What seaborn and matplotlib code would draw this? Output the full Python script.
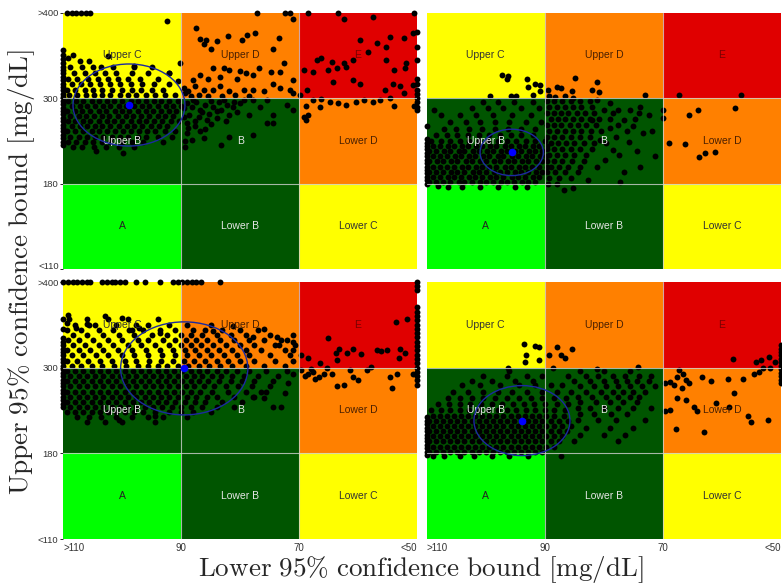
import numpy as np
import pandas as pd
import matplotlib
matplotlib.use('Agg')
import matplotlib.pyplot as plt
import seaborn as sns
from matplotlib.patches import Rectangle, Ellipse

sns.set_style('white')
plt.rcParams['font.family'] = ['Liberation Sans', 'DejaVu Sans']
plt.rcParams['mathtext.fontset'] = 'cm'

# ---------------- labels / zones ----------------
x_ticklabels = ['>110', '90', '70', '<50']
y_ticklabels = ['<110', '180', '300', '>400']
zone_names = [['A', 'Lower B', 'Lower C'],
              ['Upper B', 'B', 'Lower D'],
              ['Upper C', 'Upper D', 'E']]
zone_colors = [['#00ff00', '#005500', '#ffff00'],
               ['#005500', '#005500', '#ff8000'],
               ['#ffff00', '#ff8000', '#e00000']]
zone_text = [['#222222', '#e6e6e6', '#333333'],
             ['#e6e6e6', '#e6e6e6', '#4a2000'],
             ['#333333', '#4a2000', '#7a0000']]

# ---------------- ellipse summaries ----------------
ell_cx = [0.557, 0.72, 1.026, 0.807]
ell_cy = [1.92, 1.365, 1.99, 1.382]
ell_w = [0.95, 0.536, 1.08, 0.813]
ell_h = [0.96, 0.543, 1.083, 0.815]

# ---------------- panel 1 (top-left) ----------------
p1_rows = [
 (2.36, [0.06, 0.16, 0.25, 0.32, 0.42, 0.6, 0.75]),
 (2.29, [0.09, 0.18, 0.27, 0.35, 0.45, 0.58, 0.72, 0.9]),
 (2.22, [0.04, 0.12, 0.21, 0.29, 0.38, 0.46, 0.55, 0.65, 0.8]),
 (2.16, [0.07, 0.15, 0.23, 0.31, 0.4, 0.48, 0.57, 0.67, 0.77, 0.9]),
 (2.10, [0.03, 0.1, 0.18, 0.25, 0.33, 0.41, 0.5, 0.58, 0.66, 0.75, 0.85]),
 (2.04, [0.05, 0.12, 0.19, 0.26, 0.33, 0.4, 0.48, 0.55, 0.62, 0.7, 0.78, 0.86, 0.95]),
 (1.97, [0.04, 0.11, 0.17, 0.24, 0.3, 0.37, 0.43, 0.5, 0.57, 0.63, 0.7, 0.77, 0.83, 0.9, 0.97]),
 (1.91, [0.07, 0.14, 0.2, 0.27, 0.34, 0.4, 0.47, 0.53, 0.6, 0.67, 0.73, 0.8, 0.87, 0.93, 1.0]),
 (1.85, [0.03, 0.1, 0.16, 0.23, 0.3, 0.36, 0.44, 0.5, 0.56, 0.63, 0.7, 0.76, 0.83, 0.9, 0.96]),
 (1.79, [0.06, 0.13, 0.19, 0.26, 0.33, 0.39, 0.46, 0.53, 0.59, 0.66, 0.73, 0.8, 0.86, 0.93]),
 (1.73, [0.04, 0.1, 0.17, 0.23, 0.3, 0.37, 0.43, 0.5, 0.57, 0.64, 0.7, 0.77, 0.84, 0.91, 0.98]),
 (1.67, [0.07, 0.14, 0.2, 0.27, 0.33, 0.4, 0.47, 0.54, 0.6, 0.67, 0.74, 0.81, 0.88]),
 (1.61, [0.03, 0.1, 0.17, 0.24, 0.3, 0.37, 0.44, 0.51, 0.57, 0.64, 0.71, 0.78, 0.86, 0.95]),
 (1.55, [0.06, 0.13, 0.2, 0.27, 0.34, 0.41, 0.48, 0.55, 0.63, 0.7, 0.8, 0.92]),
 (1.49, [0.04, 0.11, 0.18, 0.25, 0.33, 0.4, 0.5, 0.58, 0.68, 0.85]),
 (1.43, [0.08, 0.16, 0.26, 0.36, 0.47, 0.6]),
]
p1_pts = [
 (0.04, 2.47), (0.08, 2.5), (0.14, 2.43), (0.22, 2.44), (0.38, 2.49), (0.6, 2.38), (0.99, 2.41),
 (0.88, 2.9), (0.9, 2.3), (0.97, 2.2),
 (1.13, 2.82), (1.16, 2.69), (1.21, 2.68), (1.19, 2.63), (1.3, 2.67), (1.25, 2.58), (1.4, 2.73),
 (1.52, 2.68), (1.56, 2.74), (1.63, 2.76), (1.83, 2.71), (1.95, 2.93), (1.78, 2.58), (1.87, 2.41),
 (1.95, 2.21), (1.84, 2.31), (1.76, 2.31), (1.27, 2.35), (1.36, 2.35), (1.41, 2.33), (1.5, 2.32),
 (1.55, 2.3), (1.61, 2.27), (1.66, 2.35), (1.16, 2.27), (1.23, 2.23), (1.33, 2.25), (1.47, 2.23),
 (1.1, 2.21), (1.12, 2.14), (1.19, 2.1), (1.27, 2.09), (1.33, 2.14), (1.41, 2.08), (1.53, 2.1),
 (1.61, 2.1), (1.7, 2.08), (1.78, 2.16), (1.84, 2.12), (1.92, 2.1), (1.95, 2.06), (1.03, 2.06),
 (1.08, 2.02), (1.02, 2.12), (1.06, 2.08), (1.15, 2.04), (1.23, 2.02), (1.35, 2.03), (1.46, 2.04),
 (1.58, 2.03),
 (2.38, 2.93), (2.63, 2.95), (2.52, 2.68), (2.77, 2.72), (2.89, 2.71), (2.97, 2.76), (2.74, 2.6),
 (2.66, 2.64), (2.59, 2.54), (2.15, 2.45), (2.19, 2.47), (2.28, 2.42), (2.38, 2.41), (2.46, 2.45),
 (2.4, 2.37), (2.32, 2.35), (2.25, 2.33), (2.12, 2.31), (2.04, 2.33), (2.81, 2.33), (2.9, 2.35),
 (2.74, 2.45), (2.91, 2.41), (2.29, 2.19), (2.46, 2.21), (2.52, 2.17), (2.73, 2.1), (2.8, 2.17),
 (2.86, 2.14), (2.97, 2.15), (2.89, 2.06), (2.07, 2.1), (2.01, 2.04),
 (2.04, 1.78), (2.08, 1.8), (2.06, 1.75), (2.06, 1.91), (2.12, 1.98), (2.19, 1.99), (2.26, 1.96),
 (2.33, 1.94), (2.4, 1.92), (2.48, 1.96), (2.55, 1.98), (2.63, 1.96), (2.69, 1.98), (2.77, 2.0),
 (2.81, 1.91), (2.18, 1.9), (2.98, 1.91),
 (1.05, 1.94), (1.09, 1.9), (1.13, 1.96), (1.16, 1.86), (1.2, 1.92), (1.24, 1.82), (1.27, 1.9),
 (1.32, 1.96), (1.34, 1.86), (1.39, 1.92), (1.44, 1.9), (1.41, 1.8), (1.47, 1.84), (1.5, 1.94),
 (1.3, 1.77), (1.22, 1.75), (1.15, 1.78), (1.07, 1.8), (1.05, 1.71), (1.12, 1.67), (1.16, 1.61),
 (1.05, 1.59), (1.09, 1.51), (1.19, 1.53), (1.34, 1.45), (1.41, 1.55), (1.61, 1.57), (1.73, 1.71),
 (1.78, 1.71), (1.78, 1.8), (1.9, 1.92), (1.95, 1.86), (1.58, 1.8), (1.67, 1.9), (1.73, 1.98),
 (1.61, 1.98), (1.53, 1.98), (1.03, 1.43), (1.02, 1.88), (1.1, 1.98), (1.25, 1.97), (1.36, 1.98),
 (1.45, 1.96), (1.18, 1.84), (1.3, 1.85), (1.12, 1.73), (1.25, 1.7), (1.38, 1.73), (1.02, 1.78),
 (1.06, 1.65), (1.2, 1.64), (1.03, 1.5),
 (0.51, 1.36), (0.28, 1.38),
]
p1_left = [2.56, 2.51, 2.46, 2.41, 2.37, 2.33, 2.29, 2.25, 2.21, 2.17, 2.13, 2.09, 2.05, 2.01,
           1.97, 1.93, 1.89, 1.85, 1.81, 1.77, 1.73, 1.69, 1.65, 1.61, 1.57, 1.53, 1.49, 1.45]
p1_top = [0.03, 0.07, 0.11, 0.15, 0.19, 0.23, 1.64, 1.88, 1.92, 2.08, 2.33, 2.98]
p1_right = [2.78, 2.6, 2.45, 2.22, 2.16, 2.1, 2.05, 2.0, 1.95, 1.9, 1.86]

# ---------------- panel 2 (top-right) ----------------
p2_rows = [
 (1.95, [0.48, 0.6, 0.74, 0.9]),
 (1.88, [0.38, 0.52, 0.65, 0.8, 0.95]),
 (1.80, [0.12, 0.28, 0.42, 0.56, 0.72, 0.88]),
 (1.72, [0.2, 0.33, 0.45, 0.58, 0.7, 0.84, 0.97]),
 (1.64, [0.15, 0.25, 0.36, 0.47, 0.58, 0.69, 0.8, 0.92]),
 (1.57, [0.08, 0.17, 0.26, 0.35, 0.44, 0.53, 0.62, 0.71, 0.8, 0.9]),
 (1.50, [0.04, 0.12, 0.2, 0.28, 0.36, 0.44, 0.52, 0.6, 0.68, 0.76, 0.84, 0.92, 1.0]),
 (1.44, [0.05, 0.11, 0.18, 0.23, 0.3, 0.35, 0.42, 0.47, 0.54, 0.59, 0.66, 0.71, 0.78, 0.83, 0.9, 0.95, 1.02]),
 (1.38, [0.02, 0.08, 0.15, 0.2, 0.27, 0.32, 0.39, 0.44, 0.51, 0.56, 0.63, 0.68, 0.75, 0.8, 0.87, 0.92, 0.98]),
 (1.32, [0.05, 0.11, 0.17, 0.24, 0.29, 0.36, 0.41, 0.48, 0.53, 0.6, 0.65, 0.72, 0.77, 0.84, 0.89, 0.96, 1.01]),
 (1.26, [0.02, 0.09, 0.14, 0.21, 0.26, 0.33, 0.38, 0.45, 0.5, 0.57, 0.62, 0.69, 0.74, 0.81, 0.86, 0.93, 0.98]),
 (1.20, [0.05, 0.11, 0.17, 0.23, 0.3, 0.35, 0.42, 0.47, 0.53, 0.59, 0.66, 0.71, 0.78, 0.83, 0.89, 0.95, 1.02]),
 (1.14, [0.02, 0.08, 0.14, 0.21, 0.26, 0.32, 0.39, 0.44, 0.5, 0.57, 0.62, 0.68, 0.75, 0.8, 0.86, 0.93, 0.98]),
 (1.08, [0.05, 0.11, 0.18, 0.23, 0.29, 0.36, 0.41, 0.47, 0.54, 0.59, 0.65, 0.72, 0.77, 0.83, 0.9, 0.95]),
 (1.02, [0.02, 0.08, 0.14, 0.2, 0.27, 0.32, 0.38, 0.45, 0.5, 0.56, 0.63, 0.68, 0.74, 0.81, 0.86, 0.92]),
 (0.96, [0.18, 0.45, 0.6, 0.75, 0.85]),
 (1.97, [1.02, 1.08, 1.15, 1.22, 1.3, 1.38]),
 (1.90, [1.04, 1.1, 1.17, 1.24, 1.31, 1.4]),
 (1.83, [1.02, 1.08, 1.14, 1.2, 1.27, 1.34, 1.42, 1.58, 1.8]),
 (1.76, [1.05, 1.11, 1.17, 1.24, 1.31, 1.38, 1.46, 1.55, 1.76]),
 (1.69, [1.02, 1.08, 1.14, 1.21, 1.28, 1.35, 1.43, 1.62]),
 (1.62, [1.04, 1.1, 1.17, 1.24, 1.31, 1.39, 1.48, 1.7]),
 (1.55, [1.02, 1.08, 1.15, 1.22, 1.3, 1.38, 1.6]),
 (1.48, [1.05, 1.11, 1.18, 1.25, 1.33, 1.42, 1.52]),
 (1.41, [1.02, 1.08, 1.15, 1.22, 1.3, 1.4]),
 (1.34, [1.04, 1.1, 1.17, 1.25, 1.35, 1.63]),
 (1.27, [1.02, 1.08, 1.15, 1.23, 1.33]),
 (1.20, [1.05, 1.12, 1.2, 1.3]),
 (1.13, [1.02, 1.09, 1.17, 1.28]),
 (1.06, [1.04, 1.12, 1.22]),
 (1.00, [1.03, 1.1]),
]
p2_pts = [
 (0.64, 2.27), (0.68, 2.23), (0.69, 2.26), (0.85, 2.23), (0.86, 2.13), (0.92, 2.17), (0.96, 2.15),
 (0.96, 2.08), (0.54, 2.03), (0.71, 2.02), (0.76, 2.02), (0.9, 2.04),
 (1.03, 2.1), (1.1, 2.13), (1.14, 2.12), (1.23, 2.08), (1.26, 2.24), (1.4, 2.1), (1.44, 2.19),
 (1.46, 2.07), (1.85, 2.04), (1.04, 2.02), (1.09, 2.01), (1.24, 2.0), (1.17, 2.03),
 (2.14, 2.04), (2.66, 2.04), (2.0, 1.86), (2.22, 1.8), (2.3, 1.86), (2.61, 1.89), (2.05, 1.48),
 (2.19, 1.46), (2.36, 1.36), (2.44, 1.37), (2.31, 1.31), (2.0, 1.77),
 (1.93, 1.32), (1.81, 1.2), (1.67, 1.14), (1.64, 1.02), (1.83, 1.59), (1.88, 1.8), (1.81, 1.9),
 (1.72, 1.86), (1.62, 1.86), (1.55, 1.94), (1.5, 1.86), (1.44, 1.98), (1.71, 1.49), (1.58, 1.39),
 (1.51, 1.28), (1.44, 1.2), (1.37, 1.04), (1.16, 0.93), (1.24, 0.95), (1.91, 1.61), (1.78, 1.38),
 (1.55, 1.65), (1.47, 1.51), (1.4, 1.75), (1.67, 1.75), (1.75, 1.67),
 (0.06, 1.86), (0.1, 0.97), (0.3, 0.96),
]
p2_left = [1.0, 1.04, 1.08, 1.12, 1.16, 1.2, 1.24, 1.28, 1.32, 1.36, 1.4, 1.44, 1.48, 1.52, 1.67]
p2_top = []
p2_right = []

# ---------------- panel 3 (bottom-left) ----------------
p3_rows = [
 (2.56, [0.05, 0.2, 0.38, 0.55, 0.8]),
 (2.50, [0.1, 0.27, 0.45, 0.62, 0.72, 0.9, 1.05, 1.25]),
 (2.44, [0.03, 0.15, 0.3, 0.42, 0.58, 0.68, 0.82, 0.95, 1.1, 1.2, 1.35, 1.5, 1.65]),
 (2.38, [0.08, 0.2, 0.34, 0.47, 0.6, 0.75, 0.88, 1.0, 1.08, 1.18, 1.3, 1.42, 1.55, 1.75, 1.95]),
 (2.32, [0.04, 0.13, 0.25, 0.38, 0.5, 0.63, 0.72, 0.85, 0.95, 1.04, 1.13, 1.22, 1.33, 1.45, 1.58, 1.7, 1.85]),
 (2.26, [0.08, 0.18, 0.3, 0.42, 0.55, 0.66, 0.78, 0.9, 1.0, 1.08, 1.17, 1.27, 1.38, 1.5, 1.62, 1.8, 1.97]),
 (2.20, [0.03, 0.13, 0.23, 0.34, 0.46, 0.58, 0.7, 0.82, 0.93, 1.03, 1.12, 1.22, 1.32, 1.43, 1.55, 1.68, 1.88]),
 (2.14, [0.07, 0.17, 0.28, 0.38, 0.5, 0.6, 0.72, 0.84, 0.95, 1.05, 1.15, 1.25, 1.36, 1.47, 1.58, 1.75, 1.92]),
 (2.08, [0.03, 0.12, 0.21, 0.31, 0.41, 0.52, 0.62, 0.73, 0.83, 0.93, 1.02, 1.11, 1.2, 1.3, 1.4, 1.5, 1.62, 1.8, 1.95]),
 (2.02, [0.07, 0.15, 0.24, 0.33, 0.43, 0.53, 0.63, 0.72, 0.8, 0.88, 0.97, 1.06, 1.15, 1.24, 1.33, 1.43, 1.55, 1.7, 1.88]),
 (1.96, [0.03, 0.1, 0.17, 0.24, 0.31, 0.38, 0.45, 0.52, 0.59, 0.66, 0.73, 0.8, 0.87, 0.94, 1.01, 1.08, 1.15, 1.22, 1.3, 1.38, 1.47, 1.58, 1.72, 1.9]),
 (1.90, [0.06, 0.13, 0.2, 0.27, 0.34, 0.41, 0.48, 0.55, 0.62, 0.69, 0.76, 0.83, 0.9, 0.97, 1.04, 1.11, 1.18, 1.26, 1.34, 1.43, 1.53, 1.65, 1.82]),
 (1.84, [0.03, 0.1, 0.17, 0.24, 0.31, 0.38, 0.45, 0.52, 0.59, 0.66, 0.73, 0.8, 0.87, 0.94, 1.01, 1.08, 1.15, 1.23, 1.32, 1.42, 1.52, 1.62, 1.78]),
 (1.78, [0.06, 0.13, 0.2, 0.27, 0.34, 0.41, 0.48, 0.55, 0.62, 0.69, 0.76, 0.83, 0.9, 0.97, 1.04, 1.11, 1.19, 1.28, 1.38, 1.48, 1.6, 1.75]),
 (1.72, [0.03, 0.1, 0.17, 0.24, 0.31, 0.38, 0.45, 0.52, 0.59, 0.66, 0.73, 0.8, 0.87, 0.94, 1.01, 1.08, 1.16, 1.26, 1.4, 1.55, 1.68]),
 (1.66, [0.06, 0.13, 0.2, 0.27, 0.34, 0.41, 0.48, 0.55, 0.62, 0.69, 0.76, 0.83, 0.9, 0.97, 1.05, 1.13, 1.22, 1.3, 1.45, 1.62]),
 (1.60, [0.03, 0.1, 0.17, 0.24, 0.31, 0.38, 0.45, 0.52, 0.59, 0.66, 0.73, 0.8, 0.87, 0.95, 1.03, 1.12, 1.2, 1.35, 1.52]),
 (1.54, [0.06, 0.13, 0.2, 0.27, 0.34, 0.41, 0.48, 0.55, 0.62, 0.69, 0.76, 0.84, 0.92, 1.0, 1.08, 1.18, 1.3, 1.45, 1.85]),
 (1.48, [0.03, 0.1, 0.17, 0.24, 0.31, 0.38, 0.45, 0.52, 0.6, 0.68, 0.78, 0.9, 1.0, 1.1, 1.25]),
 (1.42, [0.12, 0.22, 0.32, 0.45, 0.58, 0.72, 0.85, 1.05]),
 (1.37, [0.2, 0.35, 0.5, 0.78]),
]
p3_pts = [
 (0.04, 2.61), (0.03, 2.52), (0.2, 2.51), (0.22, 2.49), (0.11, 2.46), (0.64, 2.46), (0.56, 2.44),
 (0.82, 2.4), (0.35, 2.6), (0.5, 2.58),
 (1.61, 2.36), (1.81, 2.36), (1.9, 2.32), (1.95, 2.3), (1.95, 2.2), (1.83, 2.26), (1.44, 2.48),
 (1.27, 2.42), (1.7, 2.45),
 (1.78, 1.54), (1.7, 1.64), (1.61, 1.66), (1.72, 1.72), (1.91, 1.82), (1.95, 1.93), (0.78, 1.43),
 (0.47, 1.39), (1.88, 1.7),
 (2.25, 2.34), (2.34, 2.22), (2.46, 2.22), (2.31, 2.17), (2.41, 2.17), (2.53, 2.16), (2.66, 2.2),
 (2.7, 2.19), (2.75, 2.2), (2.86, 2.21), (2.9, 2.17), (2.82, 2.53), (2.92, 2.57), (2.85, 2.11),
 (2.08, 2.11), (2.02, 2.15), (2.61, 2.01), (2.32, 2.09), (2.18, 2.05),
 (2.02, 1.97), (2.08, 1.93), (2.12, 1.95), (2.17, 1.89), (2.21, 1.93), (2.14, 1.87), (2.24, 1.99),
 (2.32, 1.78), (2.38, 1.8), (2.43, 1.97), (2.46, 1.89), (2.5, 1.85), (2.58, 1.97), (2.77, 1.89),
 (2.79, 1.76), (2.83, 1.93), (2.97, 1.93), (2.05, 1.9), (2.1, 1.98), (2.28, 1.92),
]
p3_left = [1.54, 1.58, 1.62, 1.66, 1.7, 1.74, 1.78, 1.82, 1.86, 1.9, 1.94, 1.98, 2.02, 2.06,
           2.1, 2.14, 2.18, 2.22, 2.26, 2.3, 2.34, 2.45, 2.56]
p3_top = [0.0, 0.04, 0.08, 0.12, 0.16, 0.2, 0.23, 0.33, 0.37, 0.41, 0.44, 0.48, 0.52, 0.62,
          0.69, 0.82, 0.93, 0.97, 1.01, 1.05, 1.09, 1.13, 1.17, 1.33]
p3_right = [1.8, 1.85, 1.9, 1.95, 2.0, 2.05, 2.1, 2.15, 2.2, 2.25, 2.3, 2.35, 2.4, 2.45, 2.5,
            2.55, 2.6, 2.65, 2.7, 2.9, 2.95, 3.0]

# ---------------- panel 4 (bottom-right) ----------------
p4_rows = [
 (1.96, [0.7, 1.3, 1.5, 1.72]),
 (1.90, [0.48, 0.68, 0.85, 0.98, 1.2, 1.35, 1.45, 1.58, 1.68, 1.8, 1.9]),
 (1.84, [0.38, 0.55, 0.75, 0.9, 1.25, 1.38, 1.5, 1.6, 1.7, 1.78, 1.88]),
 (1.80, [0.3, 0.45, 0.62, 0.78, 0.92, 1.05, 1.15]),
 (1.78, [1.3, 1.42, 1.52, 1.62, 1.72, 1.82, 1.93]),
 (1.72, [0.22, 0.35, 0.48, 0.6, 0.72, 0.85, 0.98, 1.1, 1.22, 1.35, 1.48, 1.58, 1.66, 1.75, 1.85]),
 (1.66, [1.28, 1.4, 1.52, 1.62, 1.72, 1.8]),
 (1.64, [0.18, 0.28, 0.38, 0.48, 0.58, 0.68, 0.78, 0.88, 0.98, 1.08, 1.18]),
 (1.60, [1.3, 1.43, 1.55, 1.66, 1.78]),
 (1.57, [0.1, 0.19, 0.28, 0.37, 0.46, 0.55, 0.64, 0.73, 0.82, 0.91, 1.0, 1.1, 1.2]),
 (1.53, [1.28, 1.38, 1.5, 1.62, 1.75, 1.9]),
 (1.50, [0.04, 0.12, 0.2, 0.28, 0.36, 0.44, 0.52, 0.6, 0.68, 0.76, 0.84, 0.92, 1.0, 1.08, 1.17]),
 (1.46, [1.3, 1.42, 1.56, 1.7]),
 (1.44, [0.05, 0.11, 0.17, 0.23, 0.29, 0.35, 0.41, 0.47, 0.53, 0.59, 0.65, 0.71, 0.77, 0.83, 0.89, 0.95, 1.01, 1.08, 1.16]),
 (1.39, [1.28, 1.45, 1.6, 1.85]),
 (1.38, [0.02, 0.08, 0.14, 0.2, 0.26, 0.32, 0.38, 0.44, 0.5, 0.56, 0.62, 0.68, 0.74, 0.8, 0.86, 0.92, 0.98, 1.05, 1.12, 1.2]),
 (1.32, [0.05, 0.11, 0.17, 0.23, 0.29, 0.35, 0.41, 0.47, 0.53, 0.59, 0.65, 0.71, 0.77, 0.83, 0.89, 0.95, 1.01, 1.08, 1.15, 1.22]),
 (1.30, [1.35, 1.55, 1.75]),
 (1.26, [0.02, 0.08, 0.14, 0.2, 0.26, 0.32, 0.38, 0.44, 0.5, 0.56, 0.62, 0.68, 0.74, 0.8, 0.86, 0.92, 0.98, 1.05, 1.12, 1.19]),
 (1.22, [1.3, 1.5, 1.68]),
 (1.20, [0.05, 0.11, 0.17, 0.23, 0.29, 0.35, 0.41, 0.47, 0.53, 0.59, 0.65, 0.71, 0.77, 0.83, 0.89, 0.95, 1.01, 1.08, 1.15]),
 (1.14, [0.02, 0.08, 0.14, 0.2, 0.26, 0.32, 0.38, 0.44, 0.5, 0.56, 0.62, 0.68, 0.74, 0.8, 0.86, 0.92, 0.98, 1.05, 1.12, 1.25, 1.62]),
 (1.08, [0.05, 0.11, 0.17, 0.23, 0.29, 0.35, 0.41, 0.47, 0.53, 0.59, 0.65, 0.71, 0.77, 0.83, 0.89, 0.95, 1.01, 1.08]),
 (1.02, [0.02, 0.08, 0.14, 0.2, 0.26, 0.32, 0.38, 0.44, 0.5, 0.56, 0.62, 0.68, 0.74, 0.8, 0.86, 0.92, 0.98]),
 (0.97, [0.05, 0.15, 0.28, 0.4, 0.55, 0.7, 0.86, 1.14]),
]
p4_pts = [
 (0.82, 2.27), (0.92, 2.25), (0.95, 2.24), (0.84, 2.15), (0.95, 2.09), (0.69, 2.0), (0.83, 2.06),
 (1.1, 2.24), (1.23, 2.22), (1.14, 2.15), (1.17, 2.11), (1.04, 2.15), (1.07, 2.0), (1.44, 1.98),
 (1.79, 2.01),
 (2.02, 1.82), (2.06, 1.83), (2.09, 1.8), (2.12, 1.89), (2.14, 1.97), (2.17, 1.93), (2.2, 1.85),
 (2.22, 1.82), (2.16, 1.76), (2.12, 1.64), (2.2, 1.62), (2.26, 1.54), (2.29, 1.49), (2.02, 1.49),
 (2.06, 1.51), (2.11, 1.28), (2.35, 1.25), (2.33, 1.89), (2.41, 1.84), (2.45, 1.59), (2.55, 1.87),
 (2.6, 1.7), (2.56, 1.54), (2.68, 1.87), (2.72, 1.43), (2.75, 1.37), (2.77, 1.93), (2.81, 1.95),
 (2.85, 1.99), (2.89, 1.39), (2.91, 1.99),
 (2.59, 2.1), (2.79, 2.07), (2.83, 2.09), (2.9, 2.12), (2.95, 2.07),
]
p4_left = [0.98, 1.02, 1.06, 1.1, 1.14, 1.18, 1.22, 1.26, 1.3, 1.34, 1.38, 1.42]
p4_top = []
p4_right = [1.82, 1.86, 1.9, 1.94, 1.98, 2.02, 2.06, 2.1, 2.14, 2.18, 2.22, 2.26]

panels = [
    (p1_rows, p1_pts, p1_left, p1_top, p1_right),
    (p2_rows, p2_pts, p2_left, p2_top, p2_right),
    (p3_rows, p3_pts, p3_left, p3_top, p3_right),
    (p4_rows, p4_pts, p4_left, p4_top, p4_right),
]


def build(rows, pts, left, top, right):
    xs, ys = [], []
    for yv, xl in rows:
        xs += list(xl)
        ys += [yv] * len(xl)
    for xv, yv in pts:
        xs.append(xv)
        ys.append(yv)
    xs += [0.0] * len(left)
    ys += list(left)
    xs += list(top)
    ys += [3.0] * len(top)
    xs += [3.0] * len(right)
    ys += list(right)
    return pd.DataFrame({'x': xs, 'y': ys})


fig = plt.figure(figsize=(7.82, 5.87), dpi=100)
positions = [[0.081, 0.5417, 0.452, 0.4366], [0.5456, 0.5417, 0.4531, 0.4366],
             [0.081, 0.0813, 0.452, 0.4389], [0.5456, 0.0813, 0.4531, 0.4389]]

for k, (pos, pdata) in enumerate(zip(positions, panels)):
    ax = fig.add_axes(pos)
    for j in range(3):
        for i in range(3):
            ax.add_patch(Rectangle((i, j), 1, 1, facecolor=zone_colors[j][i],
                                   edgecolor='none', zorder=0))
            ax.text(i + 0.5, j + 0.5, zone_names[j][i], ha='center', va='center',
                    fontsize=7.5, color=zone_text[j][i], zorder=4)
    df = build(*pdata)
    sns.scatterplot(data=df, x='x', y='y', ax=ax, color='black', s=18,
                    linewidth=0, clip_on=False, zorder=3, legend=False)
    for b in [1, 2]:
        ax.axvline(b, color='#d0d0d0', lw=0.8, alpha=0.8, zorder=3.5)
        ax.axhline(b, color='#d0d0d0', lw=0.8, alpha=0.8, zorder=3.5)
    ax.add_patch(Ellipse((ell_cx[k], ell_cy[k]), ell_w[k], ell_h[k], facecolor='none',
                         edgecolor='#1c2aa0', lw=1.0, zorder=5))
    ax.scatter([ell_cx[k]], [ell_cy[k]], s=30, color='#0000ff', linewidth=0, zorder=6)
    ax.set_xlim(0, 3)
    ax.set_ylim(0, 3)
    ax.set_xlabel('')
    ax.set_ylabel('')
    for sp in ax.spines.values():
        sp.set_visible(False)
    ax.set_xticks([0, 1, 2, 3])
    ax.set_yticks([0, 1, 2, 3])
    if k >= 2:
        ax.set_xticklabels(x_ticklabels)
        tl = ax.get_xticklabels()
        tl[0].set_ha('left')
        tl[-1].set_ha('right')
    else:
        ax.set_xticklabels([])
    if k % 2 == 0:
        labs = list(y_ticklabels)
        if k == 0:
            # bottom label of the upper panel, nudged up a little
            labs[0] = ''
            ax.annotate(y_ticklabels[0], xy=(0, 0), xycoords='axes fraction',
                        xytext=(-3.3, 1.6), textcoords='offset points', ha='right',
                        va='center', fontsize=6.8, color='#333333')
        else:
            # top label of the lower panel, nudged down a little
            labs[-1] = ''
            ax.annotate(y_ticklabels[-1], xy=(0, 1), xycoords='axes fraction',
                        xytext=(-3.3, -1.6), textcoords='offset points', ha='right',
                        va='center', fontsize=6.8, color='#333333')
        ax.set_yticklabels(labs)
    else:
        ax.set_yticklabels([])
    ax.tick_params(axis='x', length=0, pad=3, labelsize=7, labelcolor='#333333')
    ax.tick_params(axis='y', length=2.5 if k % 2 == 0 else 0, width=0.7, pad=1,
                   labelsize=6.8, labelcolor='#333333', left=(k % 2 == 0))

fig.text(0.538, 0.03, r'$\mathrm{Lower\ 95\%\ confidence\ bound\ [mg/dL]}$',
         ha='center', va='center', fontsize=19.5)
fig.text(0.027, 0.537, r'$\mathrm{Upper\ 95\%\ confidence\ bound\ [mg/dL]}$',
         rotation=90, ha='center', va='center', fontsize=19.5)

fig.savefig('out.png', dpi=100)
